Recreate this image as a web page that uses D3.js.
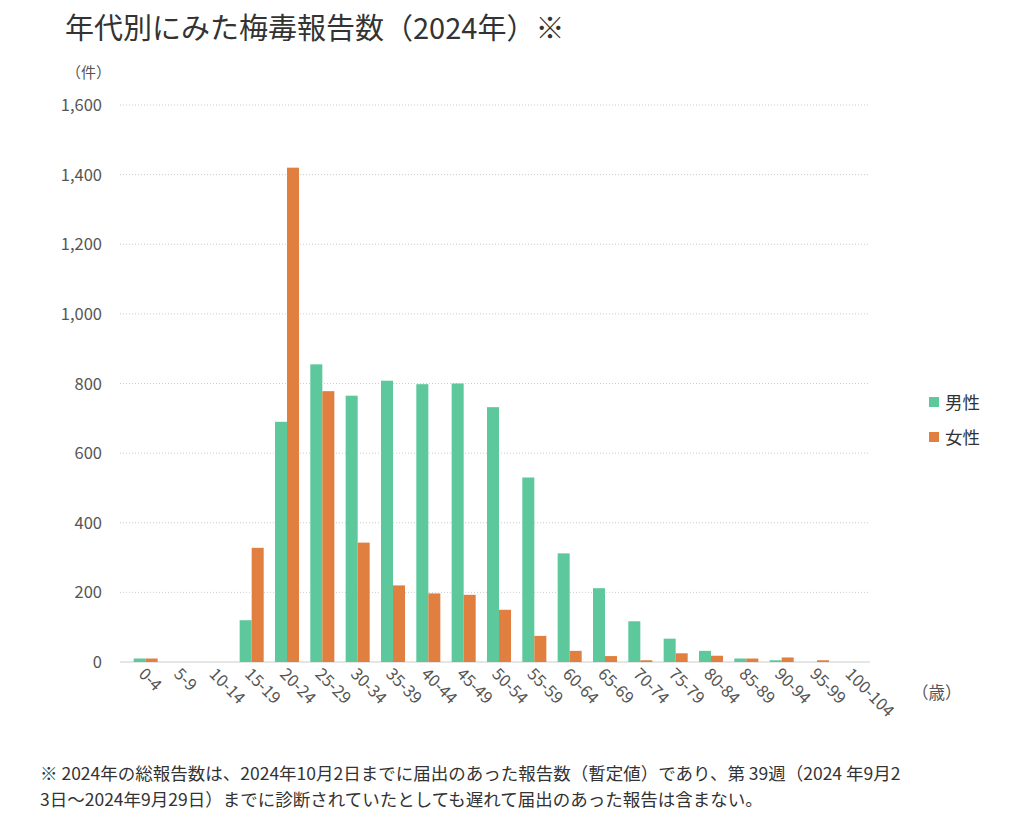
<!DOCTYPE html>
<html><head><meta charset="utf-8">
<script src="https://cdn.jsdelivr.net/npm/d3@7"></script>
<style>body{margin:0;background:#fff;font-family:"Noto Sans CJK JP","Noto Sans",sans-serif;}</style>
</head><body><svg id="c" width="1024" height="815"></svg>
<script>
const categories=["0-4","5-9","10-14","15-19","20-24","25-29","30-34","35-39","40-44","45-49","50-54","55-59","60-64","65-69","70-74","75-79","80-84","85-89","90-94","95-99","100-104"];
const male=[10,0,0,120,690,855,765,808,798,800,732,530,312,212,117,67,32,10,5,0,0];
const female=[10,0,0,328,1420,778,343,220,197,193,150,75,32,17,5,25,18,10,13,5,0];
const yTicks=[0,200,400,600,800,1000,1200,1400,1600];
const seriesNames=["男性","女性"];
const colors=["#5cc89c","#e07f3f"];
const svg=d3.select("#c");
const F='"Noto Sans CJK JP","Noto Sans",sans-serif';
const x=d3.scaleBand().domain(categories).range([128,870]).paddingInner(0.32).paddingOuter(0.16);
const xs=d3.scaleBand().domain([0,1]).range([0,x.bandwidth()]);
const y=d3.scaleLinear().domain([0,1600]).range([662,105]);
svg.append("text").attr("x",65).attr("y",39).attr("font-size",29).attr("fill","#333").attr("font-family",F).text("年代別にみた梅毒報告数（2024年）※");
svg.append("text").attr("x",66).attr("y",78).attr("font-size",15).attr("fill","#555").attr("font-family",F).text("（件）");
svg.append("g").selectAll("line").data(yTicks.slice(1)).join("line")
 .attr("x1",120).attr("x2",870).attr("y1",d=>y(d)).attr("y2",d=>y(d))
 .attr("stroke","#ccc").attr("stroke-dasharray","1,2");
svg.append("line").attr("x1",120).attr("x2",870).attr("y1",y(0)).attr("y2",y(0)).attr("stroke","#ccc");
svg.append("g").selectAll("text").data(yTicks).join("text")
 .attr("x",102).attr("y",d=>y(d)+6).attr("text-anchor","end").attr("font-size",16.5).attr("fill","#555").attr("font-family",F)
 .text(d3.format(","));
[male,female].forEach((s,i)=>{
 svg.append("g").selectAll("rect").data(s).join("rect")
  .attr("x",(d,j)=>x(categories[j])+xs(i)).attr("width",xs.bandwidth())
  .attr("y",d=>y(d)).attr("height",d=>y(0)-y(d)).attr("fill",colors[i]);
});
svg.append("g").selectAll("text").data(categories).join("text")
 .attr("transform",d=>`translate(${x(d)+x.bandwidth()/2-8},${675}) rotate(45)`)
 .attr("font-size",16.5).attr("fill","#555").attr("font-family",F).text(d=>d);
svg.append("text").attr("x",912).attr("y",699).attr("font-size",16.5).attr("fill","#555").attr("font-family",F).text("（歳）");
seriesNames.forEach((n,i)=>{
 svg.append("rect").attr("x",929).attr("y",397+i*35).attr("width",10).attr("height",10).attr("fill",colors[i]);
 svg.append("text").attr("x",945).attr("y",409+i*35).attr("font-size",17.5).attr("fill","#333").attr("font-family",F).text(n);
});
svg.append("text").attr("x",40).attr("y",780).attr("font-size",17.5).attr("fill","#333").attr("font-family",F).text("※ 2024年の総報告数は、2024年10月2日までに届出のあった報告数（暫定値）であり、第 39週（2024 年9月2");
svg.append("text").attr("x",40).attr("y",806).attr("font-size",17.5).attr("fill","#333").attr("font-family",F).text("3日〜2024年9月29日）までに診断されていたとしても遅れて届出のあった報告は含まない。");
</script></body></html>
